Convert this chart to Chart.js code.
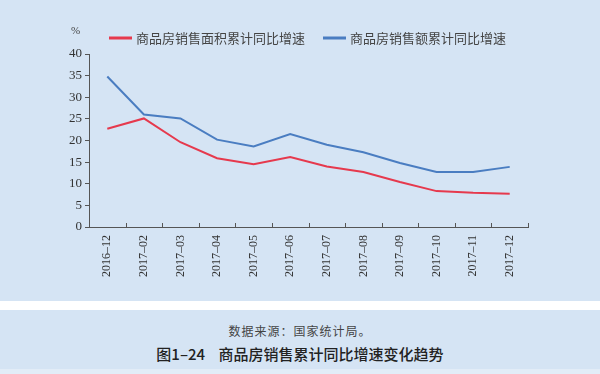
<!DOCTYPE html>
<html>
<head>
<meta charset="utf-8">
<script src="https://cdn.jsdelivr.net/npm/chart.js@4"></script>
<style>
  html, body { margin: 0; padding: 0; background: #ffffff; width: 600px; height: 374px; overflow: hidden; }
  #top { position: absolute; left: 0; top: 0; width: 600px; height: 301px; background: #d5e4f4; }
  #bottom { position: absolute; left: 0; top: 310px; width: 600px; height: 59px; background: #d5e4f4; text-align: center; }
  #foot { position: absolute; left: 0; top: 369px; width: 600px; height: 5px; background: #e2ecf7; }
  #source { position: absolute; left: 0; top: 12px; width: 600px; font: 12px "Noto Sans CJK SC", sans-serif; letter-spacing: 1px; color: #444; }
  #title { position: absolute; left: 0; top: 33px; width: 600px; font: 500 15px "Noto Sans CJK SC", sans-serif; color: #222; }
</style>
</head>
<body>
<div id="top"><canvas id="trend" width="600" height="301"></canvas></div>
<div id="bottom">
  <div id="source">数据来源：国家统计局。</div>
  <div id="title">图1–24&nbsp;&nbsp;&nbsp;&nbsp;商品房销售累计同比增速变化趋势</div>
</div>
<div id="foot"></div>
<script>
const months = ["2016–12","2017–02","2017–03","2017–04","2017–05","2017–06","2017–07","2017–08","2017–09","2017–10","2017–11","2017–12"];
const areaGrowth = [22.7,25.1,19.6,15.9,14.5,16.2,14.0,12.7,10.4,8.3,7.9,7.7];
const salesGrowth = [34.8,26.0,25.1,20.2,18.6,21.5,19.0,17.3,14.8,12.7,12.7,13.9];
const yTicks = [0,5,10,15,20,25,30,35,40];

// legend, "%" label and upward x ticks drawn by hand
const extras = {
    id: "extras",
    afterDraw(chart) {
        const c = chart.ctx;
        const x = chart.scales.x;
        const n = months.length;
        const step = (x.right - x.left) / n;
        c.save();
        c.strokeStyle = "#555";
        c.lineWidth = 1;
        for (let i = 0; i <= n; i++) {
            const px = Math.round(x.left + i * step) + 0.5;
            c.beginPath();
            c.moveTo(px, x.top);
            c.lineTo(px, x.top - 4);
            c.stroke();
        }
        c.fillStyle = "#444";
        c.font = "11px 'Liberation Serif', serif";
        c.textBaseline = "middle";
        c.fillText("%", 71, 31);

        const spots = [109, 323];
        chart.data.datasets.forEach(function(ds, i) {
            const lx = spots[i];
            c.strokeStyle = ds.borderColor;
            c.lineWidth = 3;
            c.beginPath();
            c.moveTo(lx, 38);
            c.lineTo(lx + 23, 38);
            c.stroke();
            c.fillStyle = "#444";
            c.font = "13px 'Noto Sans CJK SC', sans-serif";
            c.fillText(ds.label, lx + 27, 38);
        });
        c.restore();
    }
};

const ctx = document.getElementById("trend");
new Chart(ctx, {
    type: "line",
    data: {
        labels: months,
        datasets: [{
            label: "商品房销售面积累计同比增速",
            data: areaGrowth,
            borderColor: "#e6394d",
            borderWidth: 2,
            pointRadius: 0,
            tension: 0,
            fill: false
        }, {
            label: "商品房销售额累计同比增速",
            data: salesGrowth,
            borderColor: "#4a7dc1",
            borderWidth: 2,
            pointRadius: 0,
            tension: 0,
            fill: false
        }]
    },
    options: {
        responsive: false,
        animation: false,
        layout: { padding: { left: 60, right: 72, top: 54, bottom: 0 } },
        plugins: { legend: { display: false }, tooltip: { enabled: false } },
        scales: {
            x: {
                offset: true,
                afterFit(s) { s.height = 74; },
                grid: { display: false, drawTicks: false },
                border: { color: "#555", width: 1 },
                ticks: {
                    minRotation: 90, maxRotation: 90, autoSkip: false, padding: 8,
                    color: "#333",
                    font: { family: "'Liberation Serif', serif", size: 12 }
                }
            },
            y: {
                min: 0, max: 40,
                afterFit(s) { s.width = 29; },
                afterBuildTicks(s) { s.ticks = yTicks.map(v => ({ value: v })); },
                grid: { drawOnChartArea: false, drawTicks: true, tickLength: 4, color: "#555" },
                border: { color: "#555", width: 1 },
                ticks: {
                    padding: 3,
                    color: "#333",
                    font: { family: "'Liberation Serif', serif", size: 13 }
                }
            }
        }
    },
    plugins: [extras]
});
</script>
</body>
</html>
